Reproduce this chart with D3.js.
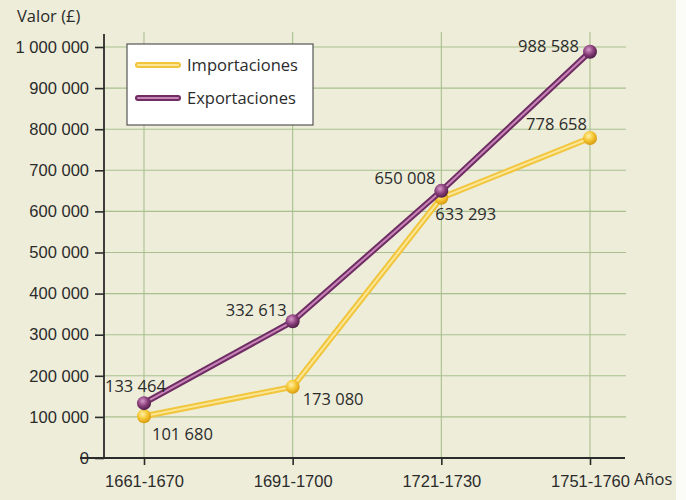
<!DOCTYPE html>
<html>
<head>
<meta charset="utf-8">
<script src="https://cdn.jsdelivr.net/npm/d3@7"></script>
<style>
  html, body { margin: 0; padding: 0; background: #fff; }
  svg { display: block; font-family: "Open Sans", sans-serif; }
  .axis text { font-size: 16.5px; fill: #2b2b2b; }
  .axis path, .axis line { stroke: #2b2b2b; stroke-width: 1.6; }
</style>
</head>
<body>
<div id="graph"></div>
<script>
'use strict';

const periods = ['1661-1670', '1691-1700', '1721-1730', '1751-1760'];
const importaciones = [101680, 173080, 633293, 778658];
const exportaciones = [133464, 332613, 650008, 988588];
const yTicks = [0, 100000, 200000, 300000, 400000, 500000, 600000, 700000, 800000, 900000, 1000000];

// label placement next to each point: [dx, dy, anchor]
const importLabelPos = [[8, 24, 'start'], [10, 18, 'start'], [-6, 22, 'start'], [-3, -8, 'end']];
const exportLabelPos = [[-39, -11, 'start'], [-6, -5, 'end'], [-6, -7, 'end'], [-11, 0, 'end']];

var W = 686, H = 500,
    padl = 104, padt = 47, h = 411,
    fs = 16.5,
    x = d3.scalePoint().domain(periods).range([144, 590]),
    y = d3.scaleLinear().domain([0, 1000000]).range([padt + h, padt]),
    fmt = (v) => d3.format(',')(v).replace(/,/g, ' ');

var svg = d3.select('#graph').append('svg')
    .attr('width', W)
    .attr('height', H);

// paper background
svg.append('rect').attr('width', W).attr('height', H).attr('fill', '#ededd9');
svg.append('rect').attr('x', 676).attr('width', W - 676).attr('height', H).attr('fill', '#fbfbf7');

var defs = svg.append('defs');
function ball(id, light, mid, dark) {
  var g = defs.append('radialGradient').attr('id', id)
      .attr('cx', '40%').attr('cy', '35%').attr('r', '65%');
  g.append('stop').attr('offset', '0%').attr('stop-color', light);
  g.append('stop').attr('offset', '55%').attr('stop-color', mid);
  g.append('stop').attr('offset', '100%').attr('stop-color', dark);
}
ball('ballImp', '#fff2a8', '#f5c531', '#d79c12');
ball('ballExp', '#d79ac8', '#8a3f7c', '#4f1d46');

// grid
svg.append('g').selectAll('line.hgrid')
  .data(yTicks.slice(1))
  .enter().append('line')
  .attr('x1', padl).attr('x2', 626)
  .attr('y1', (d) => y(d)).attr('y2', (d) => y(d))
  .attr('stroke', '#a9c08e').attr('stroke-width', 1.1);

svg.append('g').selectAll('line.vgrid')
  .data(periods)
  .enter().append('line')
  .attr('x1', (d) => x(d)).attr('x2', (d) => x(d))
  .attr('y1', 32).attr('y2', y(0))
  .attr('stroke', '#a9c08e').attr('stroke-width', 1.1);

// axes
var yAxis = d3.axisLeft(y).tickValues(yTicks).tickSize(9).tickPadding(6).tickFormat(fmt);
var gy = svg.append('g').attr('class', 'axis').attr('transform', 'translate(' + padl + ',0)').call(yAxis);
gy.select('.domain').remove();
svg.append('line').attr('x1', padl).attr('x2', padl).attr('y1', 34).attr('y2', y(0))
  .attr('stroke', '#2b2b2b').attr('stroke-width', 1.8);

var xAxis = d3.axisBottom(x).tickSize(7).tickPadding(10);
var gx = svg.append('g').attr('class', 'axis').attr('transform', 'translate(0,' + y(0) + ')').call(xAxis);
gx.select('.domain').remove();
svg.append('line').attr('x1', 80).attr('x2', 625).attr('y1', y(0)).attr('y2', y(0))
  .attr('stroke', '#2b2b2b').attr('stroke-width', 1.8);

svg.append('text').attr('x', 17).attr('y', 22).attr('font-size', fs).attr('fill', '#2b2b2b').text('Valor (£)');
svg.append('text').attr('x', 634).attr('y', 485).attr('font-size', fs).attr('fill', '#2b2b2b').text('Años');

// lines
var line = d3.line().x((d, i) => x(periods[i])).y((d) => y(d));

function drawSeries(data, outer, inner, fill) {
  var g = svg.append('g');
  g.append('path').attr('d', line(data)).attr('fill', 'none')
    .attr('stroke', outer).attr('stroke-width', 6).attr('stroke-linejoin', 'round');
  g.append('path').attr('d', line(data)).attr('fill', 'none')
    .attr('stroke', inner).attr('stroke-width', 2).attr('stroke-linejoin', 'round');
  g.selectAll('circle')
    .data(data)
    .enter().append('circle')
    .attr('cx', (d, i) => x(periods[i]))
    .attr('cy', (d) => y(d))
    .attr('r', 7)
    .attr('fill', 'url(#' + fill + ')');
  return g;
}

drawSeries(importaciones, '#f1c53c', '#fbe698', 'ballImp');
drawSeries(exportaciones, '#6f2d64', '#c885b8', 'ballExp');

function drawLabels(data, pos) {
  svg.append('g').selectAll('text')
    .data(data)
    .enter().append('text')
    .attr('x', (d, i) => x(periods[i]) + pos[i][0])
    .attr('y', (d, i) => y(d) + pos[i][1])
    .attr('text-anchor', (d, i) => pos[i][2])
    .attr('font-size', fs)
    .attr('fill', '#2b2b2b')
    .text((d) => fmt(d));
}
drawLabels(importaciones, importLabelPos);
drawLabels(exportaciones, exportLabelPos);

// legend
var lg = svg.append('g');
lg.append('rect').attr('x', 127).attr('y', 44).attr('width', 186).attr('height', 81)
  .attr('fill', '#ffffff').attr('stroke', '#555').attr('stroke-width', 1.2);
var items = [['Importaciones', '#f1c53c', '#fbe698'], ['Exportaciones', '#6f2d64', '#c885b8']];
items.forEach(function (it, i) {
  var yy = 65 + i * 33;
  lg.append('line').attr('x1', 138).attr('x2', 178).attr('y1', yy).attr('y2', yy)
    .attr('stroke', it[1]).attr('stroke-width', 6).attr('stroke-linecap', 'round');
  lg.append('line').attr('x1', 138).attr('x2', 178).attr('y1', yy).attr('y2', yy)
    .attr('stroke', it[2]).attr('stroke-width', 2).attr('stroke-linecap', 'round');
  lg.append('text').attr('x', 187).attr('y', yy + 6).attr('font-size', fs)
    .attr('fill', '#2b2b2b').text(it[0]);
});
</script>
</body>
</html>
